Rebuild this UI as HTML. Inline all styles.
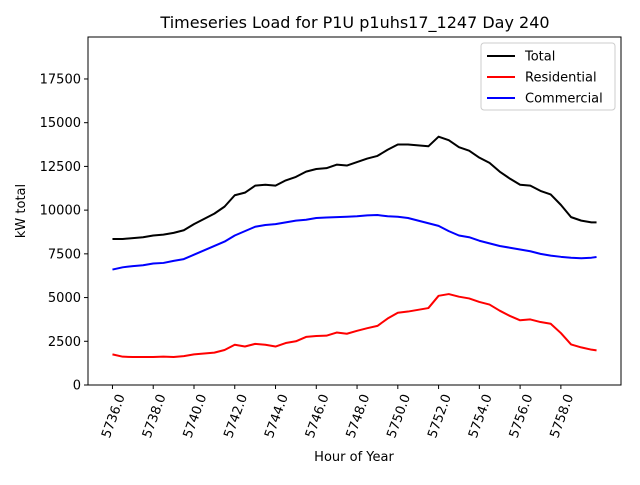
<!DOCTYPE html>
<html><head><meta charset="utf-8"><style>
body{margin:0;background:#fff;font-family:"Liberation Sans","DejaVu Sans",sans-serif}
svg text{font-family:"DejaVu Sans","Liberation Sans",sans-serif}
</style></head><body>
<svg id="chart" width="640" height="480">
<rect width="640" height="480" fill="#fff"/>
<g id="g"></g>
</svg>
<script>
const hours=[5736,5736.5,5737,5737.5,5738,5738.5,5739,5739.5,5740,5740.5,5741,5741.5,5742,5742.5,5743,5743.5,5744,5744.5,5745,5745.5,5746,5746.5,5747,5747.5,5748,5748.5,5749,5749.5,5750,5750.5,5751,5751.5,5752,5752.5,5753,5753.5,5754,5754.5,5755,5755.5,5756,5756.5,5757,5757.5,5758,5758.5,5759,5759.5,5759.75];
const total=[8350,8350,8400,8450,8550,8600,8700,8850,9200,9500,9800,10200,10850,11000,11400,11450,11400,11700,11900,12200,12350,12400,12600,12550,12750,12950,13100,13450,13750,13750,13700,13650,14200,14000,13600,13400,13000,12700,12200,11800,11450,11400,11100,10900,10300,9600,9400,9300,9300];
const residential=[1750,1620,1600,1600,1600,1620,1600,1650,1750,1800,1850,2000,2300,2200,2350,2300,2200,2400,2500,2750,2800,2820,3000,2930,3100,3250,3380,3800,4130,4200,4300,4400,5100,5200,5050,4950,4750,4600,4250,3950,3700,3750,3600,3500,2970,2320,2150,2020,1980];
const commercial=[6600,6730,6800,6850,6950,6980,7100,7200,7450,7700,7950,8200,8550,8800,9050,9150,9200,9300,9400,9450,9550,9580,9600,9620,9650,9700,9720,9650,9620,9550,9400,9250,9100,8800,8550,8450,8250,8100,7950,7850,7750,7650,7500,7400,7330,7280,7250,7280,7320];
const xTicks=[5736,5738,5740,5742,5744,5746,5748,5750,5752,5754,5756,5758];
const yTicks=[0,2500,5000,7500,10000,12500,15000,17500];
const L=88,R=621,T=37,B=385,X0=5734.8,X1=5760.95,Y1=19900;
const sx=v=>L+(v-X0)/(X1-X0)*(R-L), sy=v=>B-v/Y1*(B-T);
const NS="http://www.w3.org/2000/svg",g=document.getElementById('g');
function mk(t,a,txt){const e=document.createElementNS(NS,t);for(const k in a)e.setAttribute(k,a[k]);if(txt!==undefined)e.textContent=txt;g.appendChild(e);return e;}
function line(arr,c,name){const p=mk('polyline',{points:hours.map((h,i)=>sx(h)+','+sy(arr[i])).join(' '),fill:'none',stroke:c,'stroke-width':2,'stroke-linejoin':'round'});

}
line(total,'#000','total-line');line(residential,'#f00','residential-line');line(commercial,'#00f','commercial-line');
const fr=mk('rect',{x:L,y:T,width:R-L,height:B-T,fill:'none',stroke:'#000','stroke-width':1});


xTicks.forEach(v=>{const x=sx(v);mk('line',{x1:x,x2:x,y1:B,y2:B+4,stroke:'#000'});
const t=mk('text',{x:0,y:0,'font-size':13,'text-anchor':'end',transform:`translate(${x+4},${B+8}) rotate(-70)`,dy:'0.7em'},v.toFixed(1));

});
yTicks.forEach(v=>{const y=sy(v);mk('line',{x1:L-4,x2:L,y1:y,y2:y,stroke:'#000'});
const t=mk('text',{x:L-7,y:y+4.5,'font-size':13,'text-anchor':'end'},v);

});
let t=mk('text',{x:355,y:28,'font-size':16,'text-anchor':'middle'},'Timeseries Load for P1U p1uhs17_1247  Day 240');


t=mk('text',{x:354,y:461,'font-size':13,'text-anchor':'middle'},'Hour of Year');


t=mk('text',{x:0,y:0,'font-size':13,'text-anchor':'middle',transform:'translate(25,211) rotate(-90)'},'kW total');


const lg=mk('rect',{x:481,y:43,width:134,height:67,rx:3,fill:'#fff',stroke:'#ccc'});


[['Total','#000'],['Residential','#f00'],['Commercial','#00f']].forEach((d,i)=>{const y=56+i*21;
mk('line',{x1:487,x2:515,y1:y,y2:y,stroke:d[1],'stroke-width':2});
const e=mk('text',{x:525,y:y+4.5,'font-size':13},d[0]);

});
</script>
</body></html>
